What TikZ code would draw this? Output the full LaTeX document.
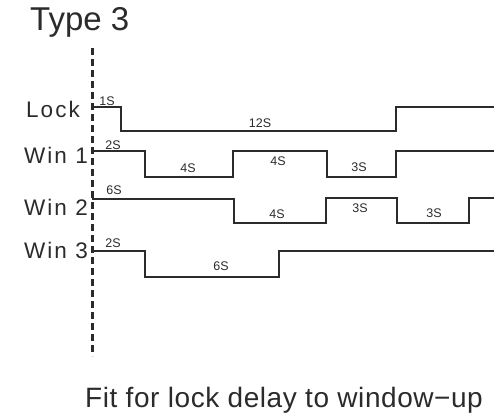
\documentclass[tikz,border=0pt]{standalone}
\usepackage{fontspec}
\setmainfont{Liberation Sans}
\newfontfamily\lblfont[LetterSpace=9]{Liberation Sans}
\newfontfamily\capfont[LetterSpace=2]{Liberation Sans}
\definecolor{ink}{HTML}{2B2B2B}
\begin{document}
\begin{tikzpicture}[x=1pt,y=-1pt,
  wave/.style={draw=ink,line width=2.6pt,line join=miter},
  axis/.style={draw=ink,line width=3pt,dash pattern=on 7pt off 4pt},
  sig/.style={text=ink,font=\lblfont\fontsize{22.5}{22.5}\selectfont,inner sep=0pt,anchor=base east},
  dur/.style={text=ink,font=\fontsize{12.5}{12.5}\selectfont,inner sep=0pt},
  ttl/.style={text=ink,inner sep=0pt,anchor=base west}]
\useasboundingbox (0,0) rectangle (494,417);
% title
\node[ttl,font=\fontsize{33}{33}\selectfont] (title) at (30,31) {Type 3};
% time-zero axis
\coordinate (axtop) at (92,48);
\coordinate (axbot) at (92,356);
\draw[axis] (axtop) -- (axbot);
% signal names
\node[sig] (lock) at (80,117) {Lock};
\node[sig] (win1) at (88,163) {Win 1};
\node[sig] (win2) at (88,215) {Win 2};
\node[sig] (win3) at (88,258) {Win 3};
% waveforms
\draw[wave] (92,107) -- (121,107) -- (121,131) -- (396,131) -- (396,107) -- (494,107);
\draw[wave] (92,151) -- (145,151) -- (145,177) -- (233,177) -- (233,151) -- (327,151) -- (327,177) -- (396,177) -- (396,151) -- (494,151);
\draw[wave] (92,199) -- (234,199) -- (234,223) -- (326,223) -- (326,198) -- (397,198) -- (397,223) -- (469,223) -- (469,198) -- (494,198);
\draw[wave] (92,251) -- (145,251) -- (145,277) -- (279,277) -- (279,251) -- (494,251);
% durations
\node[dur] (d1) at (107,101) {1S};
\node[dur] (d2) at (260,123) {12S};
\node[dur] (d3) at (113,145) {2S};
\node[dur] (d4) at (188,168) {4S};
\node[dur] (d5) at (278,161) {4S};
\node[dur] (d6) at (359,167) {3S};
\node[dur] (d7) at (114,190) {6S};
\node[dur] (d8) at (277,214) {4S};
\node[dur] (d9) at (360,208) {3S};
\node[dur] (d10) at (434,213) {3S};
\node[dur] (d11) at (113,243) {2S};
\node[dur] (d12) at (221,266) {6S};
% caption
\node[ttl,font=\capfont\fontsize{28}{28}\selectfont] (cap) at (85,407) {Fit for lock delay to window\char"2212up};
\end{tikzpicture}
\end{document}
